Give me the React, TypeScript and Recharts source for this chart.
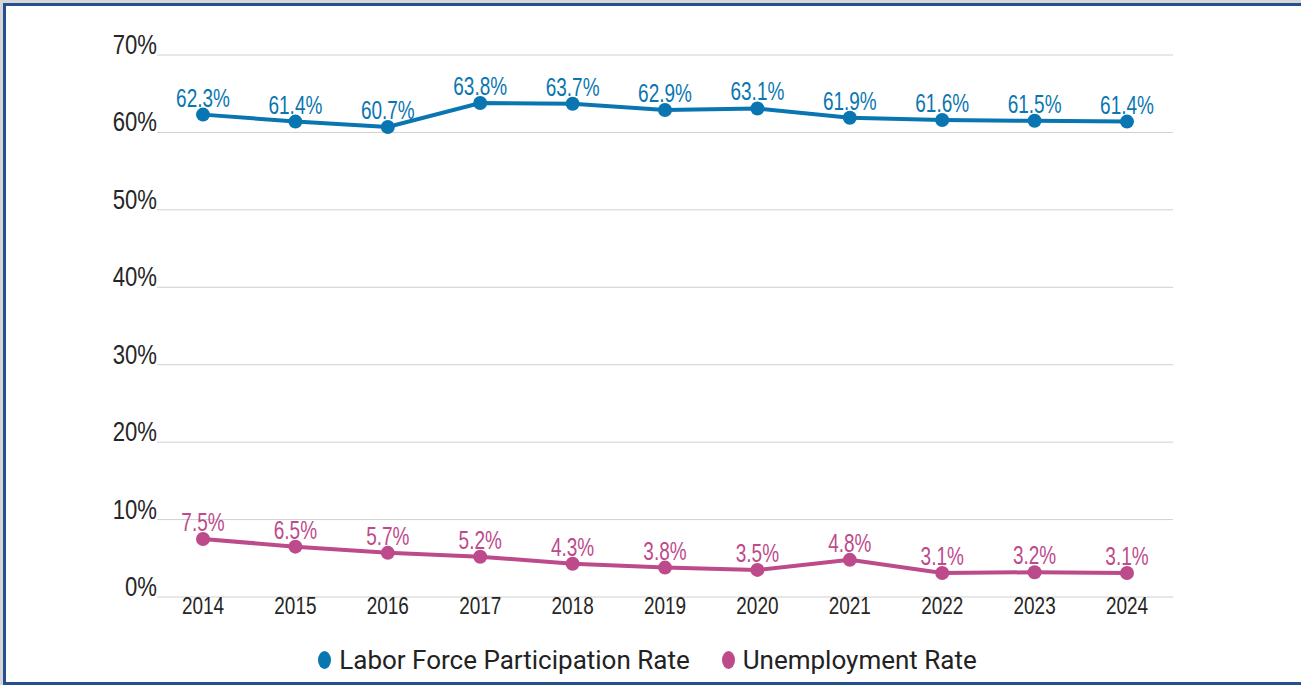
import React from "react"
import { CartesianGrid, LabelList, Line, LineChart, XAxis, YAxis } from "recharts"

const years = ["2014", "2015", "2016", "2017", "2018", "2019", "2020", "2021", "2022", "2023", "2024"]
const participation = [62.3, 61.4, 60.7, 63.8, 63.7, 62.9, 63.1, 61.9, 61.6, 61.5, 61.4]
const unemployment = [7.5, 6.5, 5.7, 5.2, 4.3, 3.8, 3.5, 4.8, 3.1, 3.2, 3.1]
const yTicks = [0, 10, 20, 30, 40, 50, 60, 70]

const BLUE = "#0a76b1"
const PINK = "#bd4a8b"
const FONT = "'Liberation Sans', Arial, sans-serif"

const data = years.map((year, i) => ({
  year,
  lfpr: participation[i],
  unemp: unemployment[i],
}))

// text squeezed sideways to mimic the narrow face in the original
function Narrow({ x, y, size, sx, color, anchor, children }: any) {
  return (
    <text
      transform={`translate(${x},${y}) scale(${sx},1)`}
      textAnchor={anchor}
      fontFamily={FONT}
      fontSize={size}
      fill={color}
    >
      {children}
    </text>
  )
}

function YTick({ x, y, payload }: any) {
  return (
    <Narrow x={x} y={y - 1} size={28} sx={0.79} color="#262626" anchor="end">
      {payload.value}%
    </Narrow>
  )
}

function XTick({ x, y, payload }: any) {
  return (
    <Narrow x={x} y={y + 17} size={24} sx={0.79} color="#262626" anchor="middle">
      {payload.value}
    </Narrow>
  )
}

function pointLabel(color: string) {
  return ({ x, y, value }: any) => (
    <Narrow x={x} y={y - 8} size={25} sx={0.76} color={color} anchor="middle">
      {value.toFixed(1)}%
    </Narrow>
  )
}

function LegendItem({ color, label }: { color: string; label: string }) {
  return (
    <span style={{ display: "inline-flex", alignItems: "center", margin: "0 16px" }}>
      <span
        style={{
          display: "inline-block",
          width: 13,
          height: 18,
          borderRadius: "50%",
          background: color,
          marginRight: 8,
        }}
      />
      <span style={{ fontFamily: "Roboto, sans-serif", fontSize: 26, color: "#222" }}>{label}</span>
    </span>
  )
}

export default function App() {
  return (
    <div
      style={{
        position: "absolute",
        left: 0,
        top: 0,
        width: 1301,
        height: 685,
        background: "#d6d6d6",
        overflow: "hidden",
      }}
    >
      <div
        style={{
          position: "absolute",
          left: 3,
          top: 3,
          width: 1310,
          height: 676,
          background: "#fff",
          borderTop: "3px solid #24508f",
          borderLeft: "3px solid #24508f",
          borderBottom: "3px solid #24508f",
        }}
      />
      <div style={{ position: "absolute", left: 0, top: 0 }}>
        <LineChart width={1301} height={685} data={data} margin={{ top: 55, right: 128, bottom: 58, left: 97 }}>
          <CartesianGrid vertical={false} stroke="#d0d0d0" strokeWidth={1} />
          <XAxis
            dataKey="year"
            axisLine={false}
            tickLine={false}
            tickSize={0}
            tickMargin={0}
            height={30}
            interval={0}
            padding={{ left: 46, right: 46 }}
            tick={<XTick />}
          />
          <YAxis
            domain={[0, 70]}
            ticks={yTicks}
            axisLine={false}
            tickLine={false}
            tickSize={0}
            tickMargin={0}
            width={60}
            tick={<YTick />}
          />
          <Line
            dataKey="lfpr"
            stroke={BLUE}
            strokeWidth={4}
            dot={{ r: 7, fill: BLUE, stroke: "none" }}
            isAnimationActive={false}
          >
            <LabelList dataKey="lfpr" content={pointLabel(BLUE)} />
          </Line>
          <Line
            dataKey="unemp"
            stroke={PINK}
            strokeWidth={4}
            dot={{ r: 7, fill: PINK, stroke: "none" }}
            isAnimationActive={false}
          >
            <LabelList dataKey="unemp" content={pointLabel(PINK)} />
          </Line>
        </LineChart>
      </div>
      <div
        style={{
          position: "absolute",
          left: 0,
          top: 644,
          width: 1295,
          display: "flex",
          justifyContent: "center",
          lineHeight: "32px",
        }}
      >
        <LegendItem color={BLUE} label="Labor Force Participation Rate" />
        <LegendItem color={PINK} label="Unemployment Rate" />
      </div>
    </div>
  )
}
